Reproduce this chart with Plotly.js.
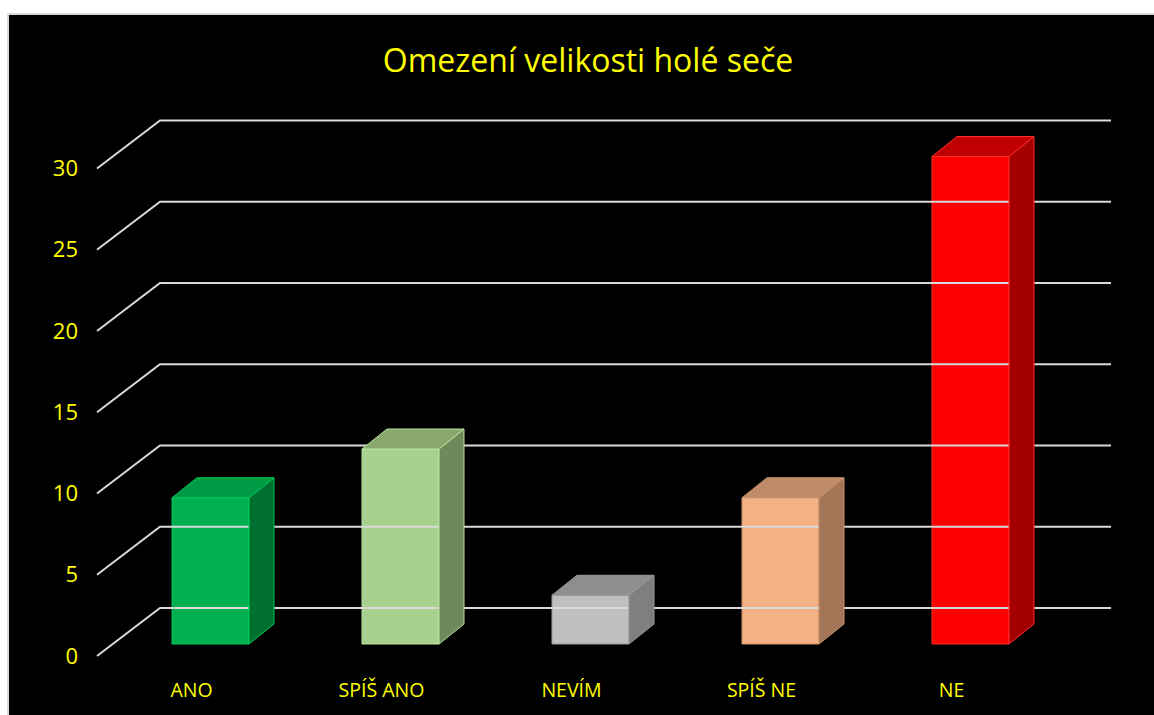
<!DOCTYPE html>
<html>
<head>
<meta charset="utf-8">
<script src="https://cdn.plot.ly/plotly-3.0.1.min.js"></script>
<style>
  html, body { margin: 0; padding: 0; background: #ffffff; width: 1154px; height: 715px; overflow: hidden; }
  #frame { position: absolute; left: 7px; top: 13px; border-left: 2px solid #d9d9d9; border-top: 2px solid #d9d9d9; }
  #chart { width: 1145px; height: 700px; }
</style>
</head>
<body>
<div id="frame"><div id="chart"></div></div>
<script>
// ---- data ----
const categories = ["ANO", "SPÍŠ ANO", "NEVÍM", "SPÍŠ NE", "NE"];
const values = [9, 12, 3, 9, 30];
const yTickValues = [0, 5, 10, 15, 20, 25, 30];
const titleText = "Omezení velikosti holé seče";

// colours: front, side, top, edge
const frontColors = ["#00B050", "#A9D18E", "#BFBFBF", "#F4B183", "#FF0000"];
const sideColors  = ["#007030", "#6E8A5C", "#7F7F7F", "#A27556", "#A40000"];
const topColors   = ["#009A44", "#88A870", "#8E8E8E", "#C08C68", "#C00000"];
const edgeColors  = ["#00C858", "#B8E49A", "#9A9A9A", "#C9926B", "#FF2A2A"];

// ---- geometry (pixel-like x scale, value y scale) ----
const PX = 16.25;              // pixels per unit on y
const firstBar = 172, step = 190, barW = 77;
const barBase = 12 / PX;       // front face floor offset
const depthX = 25, depthY = 20 / PX;
const gridFrontX = 97, gridBackX = 160, gridEndX = 1111, gridDepthY = 48 / PX;
const labelShift = 19;

const traces = [];

// grid (back wall lines + floor diagonals)
const gx = [], gy = [];
yTickValues.forEach(v => {
  gx.push(gridFrontX, gridBackX, gridEndX, null);
  gy.push(v, v + gridDepthY, v + gridDepthY, null);
});
traces.push({type: "scatter", mode: "lines", x: gx, y: gy, hoverinfo: "skip",
  line: {color: "#d9d9d9", width: 2}, showlegend: false});

const xCenters = categories.map((c, i) => firstBar + step * i + barW / 2);

// side and top faces
categories.forEach((c, i) => {
  const x0 = firstBar + step * i, x1 = x0 + barW;
  const top = values[i] + barBase;
  traces.push({type: "scatter", mode: "lines", fill: "toself", hoverinfo: "skip", showlegend: false,
    x: [x1, x1 + depthX, x1 + depthX, x1, x1],
    y: [barBase, barBase + depthY, top + depthY, top, barBase],
    fillcolor: sideColors[i], line: {color: edgeColors[i], width: 1}});
  traces.push({type: "scatter", mode: "lines", fill: "toself", hoverinfo: "skip", showlegend: false,
    x: [x0, x0 + depthX, x1 + depthX, x1, x0],
    y: [top, top + depthY, top + depthY, top, top],
    fillcolor: topColors[i], line: {color: edgeColors[i], width: 1}});
});

// front faces
traces.push({type: "bar", x: xCenters, y: values, base: barBase, width: barW,
  marker: {color: frontColors, line: {color: edgeColors, width: 1}},
  hovertemplate: "%{text}: %{y}<extra></extra>", text: categories, textposition: "none", showlegend: false});

const layout = {
  width: 1145, height: 700,
  paper_bgcolor: "#000000", plot_bgcolor: "#000000",
  margin: {l: 71, r: 0, t: 0, b: 43},
  font: {family: "Open Sans, Noto Sans, sans-serif", color: "#FFFF00"},
  title: {text: titleText, font: {size: 32, color: "#FFFF00"},
    x: 0.5057, xanchor: "center", xref: "container", y: 0.935, yanchor: "middle", yref: "container"},
  xaxis: {range: [80, 1154], tickmode: "array", tickvals: xCenters.map(x => x - labelShift), ticktext: categories,
    showgrid: false, zeroline: false, showline: false, ticks: "", ticklabelstandoff: 4,
    tickfont: {size: 19.5, color: "#FFFF00"}, fixedrange: true},
  yaxis: {range: [-16 / PX, 641 / PX], tickmode: "array", tickvals: yTickValues,
    showgrid: false, zeroline: false, showline: false, ticks: "", ticklabelstandoff: 1,
    tickfont: {size: 22, color: "#FFFF00"}, fixedrange: true},
  bargap: 0, showlegend: false
};

Plotly.newPlot("chart", traces, layout, {displayModeBar: false, staticPlot: true});
</script>
</body>
</html>
